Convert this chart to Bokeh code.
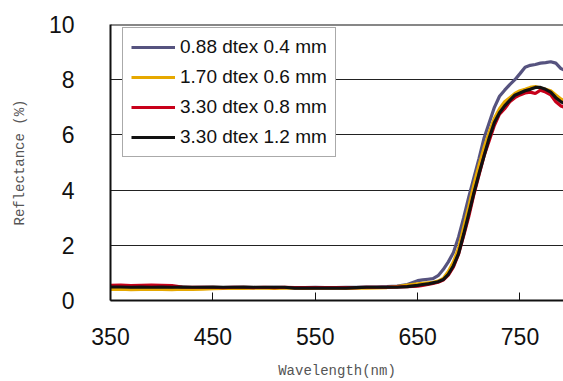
from bokeh.plotting import figure
from bokeh.models import Span, Legend, LegendItem, FixedTicker
from bokeh.embed import file_html
from bokeh.resources import INLINE

wavelength = [350, 360, 370, 380, 390, 400, 410, 420, 430, 440, 450, 460, 470, 480, 490,
              500, 510, 520, 530, 540, 550, 560, 570, 580, 590, 600, 610, 620, 630, 640,
              650, 655, 660, 665, 670, 675, 680, 685, 690, 695, 700, 705, 710, 715, 720,
              725, 730, 735, 740, 745, 750, 755, 760, 765, 770, 775, 780, 785, 790, 793]

r_088_04 = [0.48, 0.47, 0.49, 0.48, 0.47, 0.48, 0.47, 0.48, 0.47, 0.48, 0.47, 0.47, 0.48, 0.47, 0.47,
            0.47, 0.48, 0.47, 0.47, 0.47, 0.48, 0.47, 0.47, 0.48, 0.48, 0.49, 0.49, 0.50, 0.52, 0.58,
            0.72, 0.75, 0.77, 0.79, 0.90, 1.12, 1.40, 1.74, 2.30, 3.00, 3.75, 4.45, 5.15, 5.90, 6.45,
            7.00, 7.40, 7.62, 7.82, 8.00, 8.22, 8.45, 8.52, 8.55, 8.60, 8.62, 8.65, 8.60, 8.40, 8.35]

r_170_06 = [0.40, 0.41, 0.39, 0.40, 0.41, 0.40, 0.39, 0.41, 0.40, 0.41, 0.43, 0.44, 0.45, 0.44, 0.45,
            0.45, 0.44, 0.45, 0.45, 0.44, 0.45, 0.45, 0.45, 0.44, 0.45, 0.45, 0.46, 0.47, 0.50, 0.56,
            0.60, 0.62, 0.64, 0.66, 0.70, 0.80, 1.05, 1.40, 1.90, 2.65, 3.40, 4.20, 4.90, 5.55, 6.10,
            6.60, 6.95, 7.20, 7.35, 7.50, 7.60, 7.65, 7.72, 7.75, 7.70, 7.65, 7.60, 7.45, 7.30, 7.25]

r_330_08 = [0.55, 0.56, 0.54, 0.55, 0.56, 0.55, 0.54, 0.49, 0.48, 0.48, 0.48, 0.47, 0.48, 0.48, 0.47,
            0.48, 0.47, 0.48, 0.47, 0.47, 0.47, 0.47, 0.47, 0.47, 0.47, 0.48, 0.48, 0.48, 0.49, 0.50,
            0.52, 0.55, 0.58, 0.62, 0.66, 0.74, 0.92, 1.22, 1.68, 2.35, 3.05, 3.85, 4.55, 5.25, 5.80,
            6.35, 6.75, 6.95, 7.20, 7.35, 7.45, 7.52, 7.55, 7.50, 7.62, 7.55, 7.45, 7.20, 7.05, 7.00]

r_330_12 = [0.49, 0.49, 0.48, 0.49, 0.48, 0.49, 0.48, 0.49, 0.48, 0.48, 0.49, 0.48, 0.48, 0.49, 0.48,
            0.48, 0.48, 0.48, 0.45, 0.45, 0.45, 0.45, 0.45, 0.45, 0.47, 0.48, 0.48, 0.48, 0.48, 0.50,
            0.55, 0.58, 0.60, 0.64, 0.68, 0.76, 0.95, 1.26, 1.70, 2.40, 3.15, 3.90, 4.60, 5.25, 5.90,
            6.45, 6.80, 7.05, 7.25, 7.44, 7.52, 7.60, 7.65, 7.72, 7.72, 7.65, 7.55, 7.35, 7.20, 7.15]

series_labels = ["0.88 dtex 0.4 mm", "1.70 dtex 0.6 mm", "3.30 dtex 0.8 mm", "3.30 dtex 1.2 mm"]
series_values = [r_088_04, r_170_06, r_330_08, r_330_12]
series_colors = ["#56537f", "#e6a800", "#c8001a", "#111111"]

x_ticks = [350, 450, 550, 650, 750]
y_ticks = [0, 2, 4, 6, 8, 10]

p = figure(width=563, height=381, output_backend="svg", toolbar_location=None,
           x_range=(350, 792.5), y_range=(0, 10),
           min_border_left=110, min_border_right=0, min_border_top=24, min_border_bottom=80)
p.background_fill_color = "white"
p.border_fill_color = "white"
p.outline_line_color = None

items = []
for lab, vals, col in zip(series_labels, series_values, series_colors):
    r = p.line(wavelength, vals, line_color=col, line_width=3.2)
    items.append(LegendItem(label=lab, renderers=[r]))

p.add_layout(Span(location=10, dimension="width", line_color="#111111", line_width=2))

legend = Legend(items=items, location=(12, 143))
legend.border_line_color = "#555555"
legend.border_line_width = 1
legend.background_fill_color = "white"
legend.background_fill_alpha = 1.0
legend.label_text_font = "Liberation Sans"
legend.label_text_font_size = "19px"
legend.label_text_color = "#111111"
legend.glyph_width = 44
legend.glyph_height = 20
legend.label_height = 20
legend.spacing = 8
legend.padding = 8
legend.margin = 0
legend.label_standoff = 5
p.add_layout(legend, "center")

p.xgrid.grid_line_color = None
p.ygrid.grid_line_color = "#222222"
p.ygrid.grid_line_width = 1
p.ygrid.ticker = FixedTicker(ticks=[2, 4, 6, 8])

p.xaxis.ticker = FixedTicker(ticks=x_ticks)
p.yaxis.ticker = FixedTicker(ticks=y_ticks)
for ax in (p.xaxis, p.yaxis):
    ax.axis_line_color = "#111111"
    ax.axis_line_width = 2
    ax.major_label_text_font = "Liberation Sans"
    ax.major_label_text_font_size = "23px"
    ax.major_label_text_color = "#111111"
    ax.minor_tick_line_color = None
    ax.axis_label_text_font = "Liberation Mono"
    ax.axis_label_text_font_size = "14px"
    ax.axis_label_text_font_style = "normal"
    ax.axis_label_text_color = "#555555"

p.xaxis.major_tick_in = 8
p.xaxis.major_tick_out = 0
p.xaxis.major_tick_line_color = "#111111"
p.xaxis.major_tick_line_width = 1
p.xaxis.major_label_standoff = 27
p.xaxis.axis_label = "Wavelength(nm)"
p.xaxis.axis_label_standoff = 15

p.yaxis.major_tick_line_color = None
p.yaxis.major_label_standoff = 30
p.yaxis.axis_label = "Reflectance (%)"
p.yaxis.axis_label_standoff = 18

open("out.html", "w").write(file_html(p, INLINE))
